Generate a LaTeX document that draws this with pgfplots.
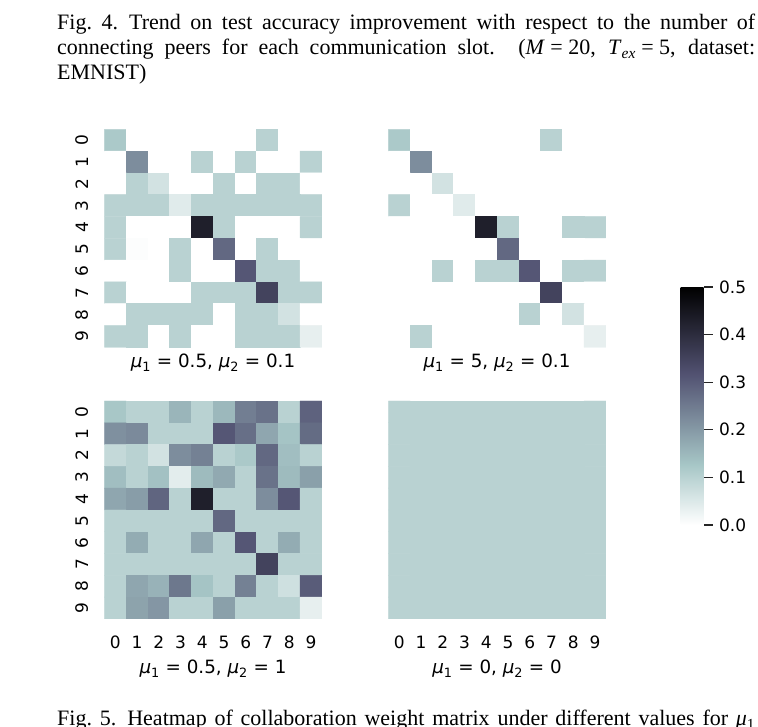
\documentclass[border=0pt]{standalone}
\usepackage{fontspec}
\setmainfont{Liberation Serif}
\newfontfamily\dv{DejaVu Sans}
\usepackage{pgfplots}
\pgfplotsset{compat=1.18}
\pgfplotsset{
 colormap={boner}{rgb(0pt)=(1,1,1) rgb(25.3968pt)=(0.652778,0.777778,0.777778) rgb(63.4921pt)=(0.319444,0.319444,0.444444) rgb(100pt)=(0,0,0)},
 hm/.style={scale only axis, width=217.5pt, height=218pt, anchor=north west,
   xmin=-0.5,xmax=9.5,ymin=-0.5,ymax=9.5, y dir=reverse,
   axis line style={draw=none}, tick style={draw=none}, major tick length=0pt,
   xtick={0,...,9}, ytick={0,...,9},
   colormap name=boner, point meta min=0, point meta max=0.5,
   tick label style={font=\dv\fontsize{17}{20}\selectfont, inner sep=0pt},
   /pgf/number format/assume math mode=true,
   xticklabel style={anchor=north, yshift=-17pt},
   yticklabel style={rotate=90, anchor=south, yshift=16pt},
 },
 cell/.style={matrix plot*, mesh/cols=10, mesh/rows=10, point meta=explicit},
}
\newcommand\lab[1]{{\dv\fontsize{18.3}{20}\selectfont #1}}
\begin{document}
\begin{tikzpicture}
% ---- caption above
\node[anchor=base west, inner sep=0pt, font=\fontsize{22}{25}\selectfont] at (57pt,697pt) {\hbox to 698pt{Fig.~4.\hspace{0.5em}Trend on test accuracy improvement with respect to the number of}};
\node[anchor=base west, inner sep=0pt, font=\fontsize{22}{25}\selectfont] at (57pt,672pt) {\hbox to 698pt{connecting peers for each communication slot. (\mbox{\textit{M} = 20}, \mbox{\textit{T}\textsubscript{\textit{ex}} = 5}, dataset:}};
\node[anchor=base west, inner sep=0pt, font=\fontsize{22}{25}\selectfont] at (57pt,647pt) {EMNIST)};
% ---- top left
\begin{axis}[hm, at={(104.3pt,597.7pt)}, xtick=\empty]
\addplot[cell] table[x index=0, y index=1, meta index=2, row sep=\\] {
0 0 .12\\ 1 0 0\\ 2 0 0\\ 3 0 0\\ 4 0 0\\ 5 0 0\\ 6 0 0\\ 7 0 .1\\ 8 0 0\\ 9 0 0\\
0 1 0\\ 1 1 .22\\ 2 1 0\\ 3 1 0\\ 4 1 .1\\ 5 1 0\\ 6 1 .1\\ 7 1 0\\ 8 1 0\\ 9 1 .1\\
0 2 0\\ 1 2 .1\\ 2 2 .065\\ 3 2 0\\ 4 2 0\\ 5 2 .1\\ 6 2 0\\ 7 2 .1\\ 8 2 .1\\ 9 2 0\\
0 3 .1\\ 1 3 .1\\ 2 3 .1\\ 3 3 .045\\ 4 3 .1\\ 5 3 .1\\ 6 3 .1\\ 7 3 .1\\ 8 3 .1\\ 9 3 .1\\
0 4 .1\\ 1 4 0\\ 2 4 0\\ 3 4 0\\ 4 4 .43\\ 5 4 .1\\ 6 4 0\\ 7 4 0\\ 8 4 0\\ 9 4 .1\\
0 5 .1\\ 1 5 .005\\ 2 5 0\\ 3 5 .1\\ 4 5 0\\ 5 5 .28\\ 6 5 0\\ 7 5 .1\\ 8 5 0\\ 9 5 0\\
0 6 0\\ 1 6 0\\ 2 6 0\\ 3 6 .1\\ 4 6 0\\ 5 6 0\\ 6 6 .31\\ 7 6 .1\\ 8 6 .1\\ 9 6 0\\
0 7 .1\\ 1 7 0\\ 2 7 0\\ 3 7 0\\ 4 7 .1\\ 5 7 .1\\ 6 7 .1\\ 7 7 .35\\ 8 7 .1\\ 9 7 .1\\
0 8 0\\ 1 8 .1\\ 2 8 .1\\ 3 8 .1\\ 4 8 .1\\ 5 8 0\\ 6 8 .1\\ 7 8 .1\\ 8 8 .065\\ 9 8 0\\
0 9 .1\\ 1 9 .1\\ 2 9 0\\ 3 9 .1\\ 4 9 0\\ 5 9 0\\ 6 9 .1\\ 7 9 .1\\ 8 9 .1\\ 9 9 .035\\
};
\end{axis}
% ---- top right (with colorbar)
\begin{axis}[hm, at={(388.3pt,597.7pt)}, xtick=\empty, ytick=\empty,
  colorbar, colorbar/width=23pt,
  colorbar style={at={(parent axis.north east)}, anchor=north west,
    xshift=66.2pt, yshift=-157.7pt, scale only axis, width=23pt, height=238pt,
    y dir=normal, ymin=0, ymax=0.5,
    axis line style={draw=none},
    ytick={0,0.1,0.2,0.3,0.4,0.5}, ytick pos=right, yticklabel pos=right,
    tick align=outside, major tick length=9pt,
    tick style={draw=black!85, line width=1.3pt},
    tick label style={font=\dv\fontsize{17}{20}\selectfont},
    /pgf/number format/assume math mode=true,
    yticklabel style={xshift=3pt, /pgf/number format/.cd, fixed, fixed zerofill, precision=1},
  }]
\addplot[cell] table[x index=0, y index=1, meta index=2, row sep=\\] {
0 0 .12\\ 1 0 0\\ 2 0 0\\ 3 0 0\\ 4 0 0\\ 5 0 0\\ 6 0 0\\ 7 0 .1\\ 8 0 0\\ 9 0 0\\
0 1 0\\ 1 1 .22\\ 2 1 0\\ 3 1 0\\ 4 1 0\\ 5 1 0\\ 6 1 0\\ 7 1 0\\ 8 1 0\\ 9 1 0\\
0 2 0\\ 1 2 0\\ 2 2 .065\\ 3 2 0\\ 4 2 0\\ 5 2 0\\ 6 2 0\\ 7 2 0\\ 8 2 0\\ 9 2 0\\
0 3 .1\\ 1 3 0\\ 2 3 0\\ 3 3 .045\\ 4 3 0\\ 5 3 0\\ 6 3 0\\ 7 3 0\\ 8 3 0\\ 9 3 0\\
0 4 0\\ 1 4 0\\ 2 4 0\\ 3 4 0\\ 4 4 .43\\ 5 4 .1\\ 6 4 0\\ 7 4 0\\ 8 4 .1\\ 9 4 .1\\
0 5 0\\ 1 5 0\\ 2 5 0\\ 3 5 0\\ 4 5 0\\ 5 5 .28\\ 6 5 0\\ 7 5 0\\ 8 5 0\\ 9 5 0\\
0 6 0\\ 1 6 0\\ 2 6 .1\\ 3 6 0\\ 4 6 .1\\ 5 6 .1\\ 6 6 .31\\ 7 6 0\\ 8 6 .1\\ 9 6 .1\\
0 7 0\\ 1 7 0\\ 2 7 0\\ 3 7 0\\ 4 7 0\\ 5 7 0\\ 6 7 0\\ 7 7 .35\\ 8 7 0\\ 9 7 0\\
0 8 0\\ 1 8 0\\ 2 8 0\\ 3 8 0\\ 4 8 0\\ 5 8 0\\ 6 8 .1\\ 7 8 0\\ 8 8 .065\\ 9 8 0\\
0 9 0\\ 1 9 .1\\ 2 9 0\\ 3 9 0\\ 4 9 0\\ 5 9 0\\ 6 9 0\\ 7 9 0\\ 8 9 0\\ 9 9 .035\\
};
\end{axis}
% ---- bottom left
\begin{axis}[hm, at={(104.3pt,326pt)}]
\addplot[cell] table[x index=0, y index=1, meta index=2, row sep=\\] {
0 0 .125\\ 1 0 .1\\ 2 0 .1\\ 3 0 .155\\ 4 0 .1\\ 5 0 .15\\ 6 0 .245\\ 7 0 .265\\ 8 0 .1\\ 9 0 .29\\
0 1 .215\\ 1 1 .225\\ 2 1 .1\\ 3 1 .1\\ 4 1 .1\\ 5 1 .31\\ 6 1 .27\\ 7 1 .18\\ 8 1 .13\\ 9 1 .275\\
0 2 .085\\ 1 2 .1\\ 2 2 .065\\ 3 2 .22\\ 4 2 .24\\ 5 2 .1\\ 6 2 .12\\ 7 2 .28\\ 8 2 .14\\ 9 2 .1\\
0 3 .14\\ 1 3 .1\\ 2 3 .135\\ 3 3 .04\\ 4 3 .145\\ 5 3 .175\\ 6 3 .1\\ 7 3 .265\\ 8 3 .145\\ 9 3 .19\\
0 4 .18\\ 1 4 .195\\ 2 4 .285\\ 3 4 .1\\ 4 4 .43\\ 5 4 .1\\ 6 4 .1\\ 7 4 .22\\ 8 4 .31\\ 9 4 .1\\
0 5 .1\\ 1 5 .1\\ 2 5 .1\\ 3 5 .1\\ 4 5 .1\\ 5 5 .28\\ 6 5 .1\\ 7 5 .1\\ 8 5 .1\\ 9 5 .1\\
0 6 .1\\ 1 6 .17\\ 2 6 .1\\ 3 6 .1\\ 4 6 .18\\ 5 6 .1\\ 6 6 .31\\ 7 6 .1\\ 8 6 .17\\ 9 6 .1\\
0 7 .1\\ 1 7 .1\\ 2 7 .1\\ 3 7 .1\\ 4 7 .1\\ 5 7 .1\\ 6 7 .1\\ 7 7 .35\\ 8 7 .1\\ 9 7 .1\\
0 8 .1\\ 1 8 .18\\ 2 8 .16\\ 3 8 .255\\ 4 8 .13\\ 5 8 .1\\ 6 8 .24\\ 7 8 .1\\ 8 8 .07\\ 9 8 .3\\
0 9 .1\\ 1 9 .185\\ 2 9 .205\\ 3 9 .1\\ 4 9 .1\\ 5 9 .19\\ 6 9 .1\\ 7 9 .1\\ 8 9 .1\\ 9 9 .035\\
};
\end{axis}
% ---- bottom right
\begin{axis}[hm, at={(388.3pt,326pt)}, ytick=\empty]
\addplot[cell] table[x index=0, y index=1, meta index=2, row sep=\\] {
0 0 .1\\ 1 0 .1\\ 2 0 .1\\ 3 0 .1\\ 4 0 .1\\ 5 0 .1\\ 6 0 .1\\ 7 0 .1\\ 8 0 .1\\ 9 0 .1\\
0 1 .1\\ 1 1 .1\\ 2 1 .1\\ 3 1 .1\\ 4 1 .1\\ 5 1 .1\\ 6 1 .1\\ 7 1 .1\\ 8 1 .1\\ 9 1 .1\\
0 2 .1\\ 1 2 .1\\ 2 2 .1\\ 3 2 .1\\ 4 2 .1\\ 5 2 .1\\ 6 2 .1\\ 7 2 .1\\ 8 2 .1\\ 9 2 .1\\
0 3 .1\\ 1 3 .1\\ 2 3 .1\\ 3 3 .1\\ 4 3 .1\\ 5 3 .1\\ 6 3 .1\\ 7 3 .1\\ 8 3 .1\\ 9 3 .1\\
0 4 .1\\ 1 4 .1\\ 2 4 .1\\ 3 4 .1\\ 4 4 .1\\ 5 4 .1\\ 6 4 .1\\ 7 4 .1\\ 8 4 .1\\ 9 4 .1\\
0 5 .1\\ 1 5 .1\\ 2 5 .1\\ 3 5 .1\\ 4 5 .1\\ 5 5 .1\\ 6 5 .1\\ 7 5 .1\\ 8 5 .1\\ 9 5 .1\\
0 6 .1\\ 1 6 .1\\ 2 6 .1\\ 3 6 .1\\ 4 6 .1\\ 5 6 .1\\ 6 6 .1\\ 7 6 .1\\ 8 6 .1\\ 9 6 .1\\
0 7 .1\\ 1 7 .1\\ 2 7 .1\\ 3 7 .1\\ 4 7 .1\\ 5 7 .1\\ 6 7 .1\\ 7 7 .1\\ 8 7 .1\\ 9 7 .1\\
0 8 .1\\ 1 8 .1\\ 2 8 .1\\ 3 8 .1\\ 4 8 .1\\ 5 8 .1\\ 6 8 .1\\ 7 8 .1\\ 8 8 .1\\ 9 8 .1\\
0 9 .1\\ 1 9 .1\\ 2 9 .1\\ 3 9 .1\\ 4 9 .1\\ 5 9 .1\\ 6 9 .1\\ 7 9 .1\\ 8 9 .1\\ 9 9 .1\\
};
\end{axis}
% ---- panel titles
\node[anchor=base, inner sep=0pt] at (213pt,359pt) {\lab{\textit{μ}\textsubscript{1} = 0.5, \textit{μ}\textsubscript{2} = 0.1}};
\node[anchor=base, inner sep=0pt] at (497pt,359pt) {\lab{\textit{μ}\textsubscript{1} = 5, \textit{μ}\textsubscript{2} = 0.1}};
\node[anchor=base, inner sep=0pt] at (213pt,53pt) {\lab{\textit{μ}\textsubscript{1} = 0.5, \textit{μ}\textsubscript{2} = 1}};
\node[anchor=base, inner sep=0pt] at (497pt,53pt) {\lab{\textit{μ}\textsubscript{1} = 0, \textit{μ}\textsubscript{2} = 0}};
% ---- caption below (cut by the page edge, as in the reference)
\node[anchor=base west, inner sep=0pt, font=\fontsize{22}{25}\selectfont] at (57pt,1pt) {\hbox to 698pt{Fig.~5.\hspace{0.5em}Heatmap of collaboration weight matrix under different values for \textit{μ}\textsubscript{1}}};
\pgfresetboundingbox
\path[use as bounding box] (0pt,0pt) rectangle (758pt,727pt);
\end{tikzpicture}
\end{document}
